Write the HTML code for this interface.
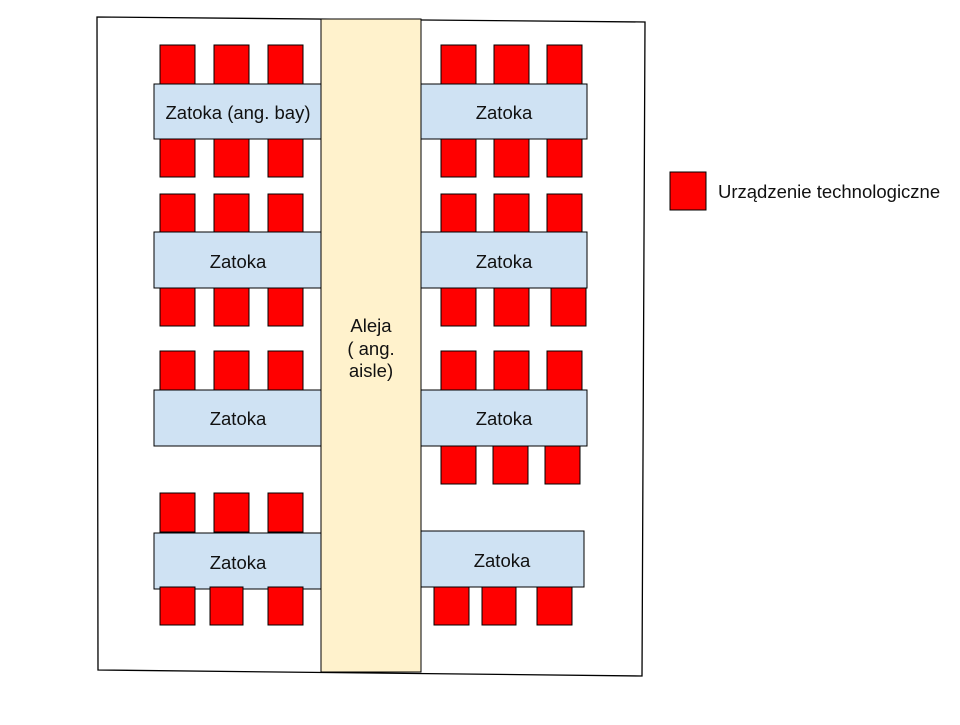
<!DOCTYPE html>
<html><head><style>
body{margin:0;background:#fff;width:960px;height:720px;overflow:hidden}
svg text{font-family:"Liberation Sans",Arial,sans-serif;font-size:18.5px;fill:#111}
</style></head><body>
<svg width="960" height="720" viewBox="0 0 960 720" xmlns="http://www.w3.org/2000/svg">
<polygon points="97,17 645,22 642,676 98,670" fill="#fff" stroke="#000" stroke-width="1.3"/>
<g fill="#cfe2f3" stroke="#000" stroke-width="1">
<rect x="154" y="84" width="167" height="55"/>
<rect x="154" y="232" width="167" height="56"/>
<rect x="154" y="390" width="167" height="56"/>
<rect x="154" y="533" width="167" height="56"/>
<rect x="421" y="84" width="166" height="55"/>
<rect x="421" y="232" width="166" height="56"/>
<rect x="421" y="390" width="166" height="56"/>
<rect x="421" y="531" width="163" height="56"/>
</g>
<g fill="#ff0000" stroke="#000" stroke-width="1">
<rect x="160" y="45" width="35" height="39"/><rect x="214" y="45" width="35" height="39"/><rect x="268" y="45" width="35" height="39"/>
<rect x="160" y="139" width="35" height="38"/><rect x="214" y="139" width="35" height="38"/><rect x="268" y="139" width="35" height="38"/>
<rect x="160" y="194" width="35" height="38"/><rect x="214" y="194" width="35" height="38"/><rect x="268" y="194" width="35" height="38"/>
<rect x="160" y="288" width="35" height="38"/><rect x="214" y="288" width="35" height="38"/><rect x="268" y="288" width="35" height="38"/>
<rect x="160" y="351" width="35" height="39"/><rect x="214" y="351" width="35" height="39"/><rect x="268" y="351" width="35" height="39"/>
<rect x="160" y="493" width="35" height="39"/><rect x="214" y="493" width="35" height="39"/><rect x="268" y="493" width="35" height="39"/>
<rect x="160" y="587" width="35" height="38"/><rect x="210" y="587" width="33" height="38"/><rect x="268" y="587" width="35" height="38"/>
<rect x="441" y="45" width="35" height="39"/><rect x="494" y="45" width="35" height="39"/><rect x="547" y="45" width="35" height="39"/>
<rect x="441" y="139" width="35" height="38"/><rect x="494" y="139" width="35" height="38"/><rect x="547" y="139" width="35" height="38"/>
<rect x="441" y="194" width="35" height="38"/><rect x="494" y="194" width="35" height="38"/><rect x="547" y="194" width="35" height="38"/>
<rect x="441" y="288" width="35" height="38"/><rect x="494" y="288" width="35" height="38"/><rect x="551" y="288" width="35" height="38"/>
<rect x="441" y="351" width="35" height="39"/><rect x="494" y="351" width="35" height="39"/><rect x="547" y="351" width="35" height="39"/>
<rect x="441" y="446" width="35" height="38"/><rect x="493" y="446" width="35" height="38"/><rect x="545" y="446" width="35" height="38"/>
<rect x="434" y="587" width="35" height="38"/><rect x="482" y="587" width="34" height="38"/><rect x="537" y="587" width="35" height="38"/>
<rect x="670" y="172" width="36" height="38"/>
</g>
<rect x="321" y="19" width="100" height="653" fill="#fff2cc" stroke="#000" stroke-width="1"/>
<g text-anchor="middle">
<text x="238" y="119">Zatoka (ang. bay)</text>
<text x="238" y="268">Zatoka</text>
<text x="238" y="425">Zatoka</text>
<text x="238" y="569">Zatoka</text>
<text x="504" y="119">Zatoka</text>
<text x="504" y="268">Zatoka</text>
<text x="504" y="425">Zatoka</text>
<text x="502" y="567">Zatoka</text>
<text x="371" y="332">Aleja</text>
<text x="371" y="355">( ang.</text>
<text x="371" y="377">aisle)</text>
</g>
<text x="718" y="198">Urządzenie technologiczne</text>
</svg>
</body></html>
